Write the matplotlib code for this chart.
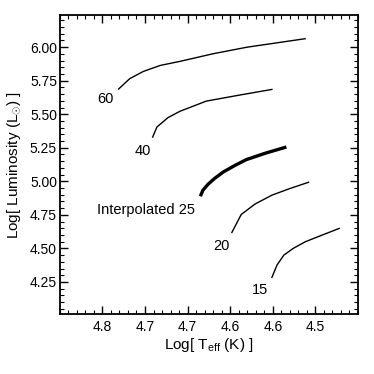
import numpy as np
import matplotlib
matplotlib.use("Agg")
import matplotlib.pyplot as plt
from matplotlib.ticker import MultipleLocator, FixedLocator, FixedFormatter

plt.rcParams['font.family'] = ['Liberation Sans', 'DejaVu Sans']
plt.rcParams['mathtext.fontset'] = 'custom'
plt.rcParams['mathtext.rm'] = 'Liberation Sans'
plt.rcParams['mathtext.it'] = 'Liberation Sans:italic'

# evolutionary tracks: log Teff, log L
teff_60 = [4.781, 4.768, 4.752, 4.732, 4.709, 4.670, 4.630, 4.562]
lum_60 = [5.688, 5.765, 5.819, 5.864, 5.894, 5.951, 6.000, 6.063]

teff_40 = [4.741, 4.736, 4.723, 4.709, 4.678, 4.638, 4.601]
lum_40 = [5.330, 5.405, 5.475, 5.522, 5.598, 5.644, 5.685]

teff_25 = [4.685, 4.682, 4.676, 4.668, 4.658, 4.644, 4.631, 4.609, 4.584]
lum_25 = [4.889, 4.934, 4.978, 5.023, 5.070, 5.120, 5.162, 5.209, 5.256]

teff_20 = [4.648, 4.637, 4.621, 4.601, 4.580, 4.558]
lum_20 = [4.619, 4.753, 4.830, 4.897, 4.946, 4.993]

teff_15 = [4.601, 4.595, 4.587, 4.576, 4.562, 4.545, 4.522]
lum_15 = [4.284, 4.376, 4.450, 4.500, 4.549, 4.592, 4.649]

track_labels = ['60', '40', 'Interpolated 25', '20', '15']
label_teff = [4.796, 4.752, 4.749, 4.660, 4.615]
label_lum = [5.611, 5.226, 4.785, 4.519, 4.190]

x_ticks = [4.80, 4.75, 4.70, 4.65, 4.60, 4.55]
x_ticklabels = ['4.8', '4.7', '4.7', '4.6', '4.6', '4.5']
y_ticks = [4.25, 4.50, 4.75, 5.00, 5.25, 5.50, 5.75, 6.00]

fig = plt.figure(figsize=(3.74, 3.74), dpi=100)
ax = fig.add_axes([0.160, 0.160, 0.797, 0.800])

ax.plot(teff_60, lum_60, color='black', lw=1.0)
ax.plot(teff_40, lum_40, color='black', lw=1.0)
ax.plot(teff_25, lum_25, color='black', lw=2.4, solid_capstyle='butt')
ax.plot(teff_20, lum_20, color='black', lw=1.0)
ax.plot(teff_15, lum_15, color='black', lw=1.0)

for lab, tx, ly in zip(track_labels, label_teff, label_lum):
    ax.text(tx, ly, lab, ha='center', va='center', fontsize=10.5)

ax.set_xlim(4.85, 4.50)
ax.set_ylim(4.01, 6.24)

ax.xaxis.set_major_locator(FixedLocator(x_ticks))
ax.xaxis.set_major_formatter(FixedFormatter(x_ticklabels))
ax.xaxis.set_minor_locator(MultipleLocator(0.01))
ax.yaxis.set_major_locator(FixedLocator(y_ticks))
ax.yaxis.set_major_formatter(FixedFormatter(['%.2f' % v for v in y_ticks]))
ax.yaxis.set_minor_locator(MultipleLocator(0.05))

ax.tick_params(which='both', direction='in', top=True, right=True, labelsize=10)
ax.tick_params(axis='y', pad=2)
ax.tick_params(axis='x', pad=4)
ax.tick_params(which='major', length=6, width=1.0)
ax.tick_params(which='minor', length=3, width=0.8)
for sp in ax.spines.values():
    sp.set_linewidth(1.3)

ax.set_xlabel(r'Log[ T$_{\rm eff}$ (K) ]', fontsize=11, labelpad=2)
ax.set_ylabel(r'Log[ Luminosity (L$_{\odot}$) ]', fontsize=11, labelpad=5)

fig.savefig('out.png', dpi=100)
